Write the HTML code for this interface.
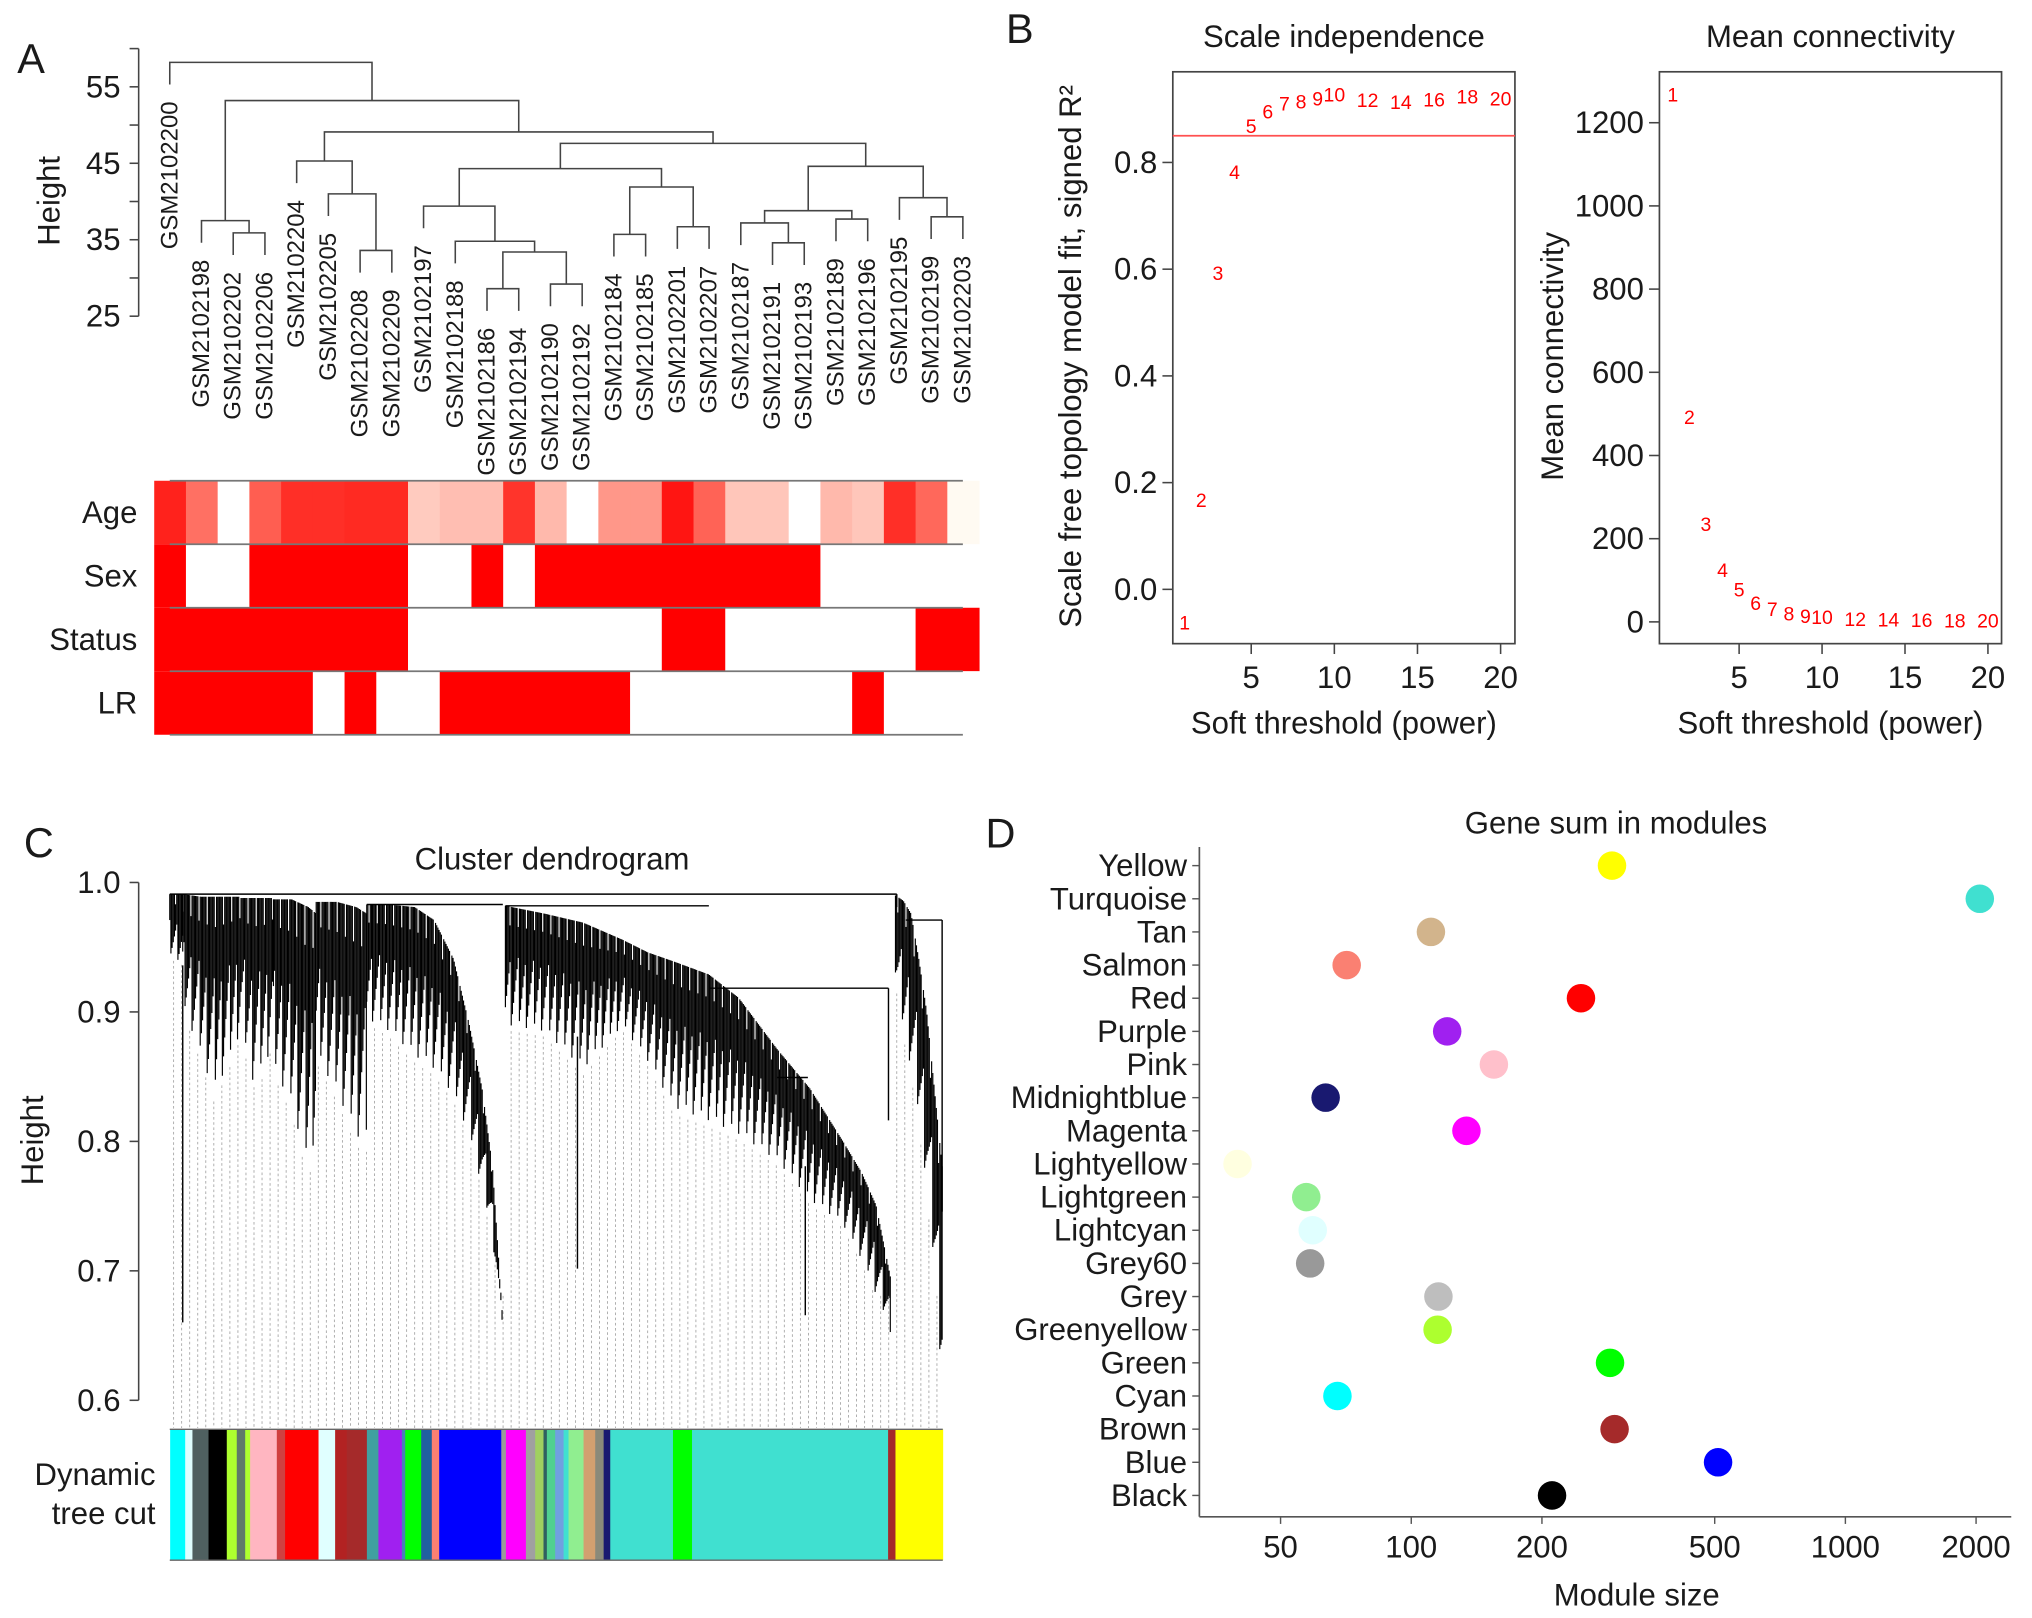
<!DOCTYPE html>
<html><head><meta charset="utf-8"><style>
html,body{margin:0;padding:0;background:#fff}
svg{display:block}
text{font-family:"Liberation Sans",Arial,sans-serif;fill:#1a1a1a}
</style></head><body>
<svg id="fig" xmlns="http://www.w3.org/2000/svg" width="2032" height="1618" viewBox="0 0 1568 1248.6" preserveAspectRatio="none">
<rect x="0" y="0" width="1568" height="1248.6" fill="#fff"/>
<g id="pA"></g>
<g id="pB1"></g>
<g id="pB2"></g>
<g id="pC"></g>
<g id="pD"></g>
</svg>
<script>
// ---------- Panel A data ----------
const sampleLabels = ["GSM2102200","GSM2102198","GSM2102202","GSM2102206","GSM2102204","GSM2102205","GSM2102208","GSM2102209","GSM2102197","GSM2102188","GSM2102186","GSM2102194","GSM2102190","GSM2102192","GSM2102184","GSM2102185","GSM2102201","GSM2102207","GSM2102187","GSM2102191","GSM2102193","GSM2102189","GSM2102196","GSM2102195","GSM2102199","GSM2102203"];
const mergeLeft  = [2,1,6,5,4,10,12,"m5",9,8,14,16,"m10","m9",19,18,21,"m15",24,23,"m17","m13","m4","m1",0];
const mergeRight = ["3","m0","7","m2","m3","11","13","m6","m7","m8","15","17","m11","m12","20","m14","22","m16","25","m18","m19","m20","m21","m22","m23"];
const mergeHeight = [35.9,37.5,33.6,41,45.3,28.6,29.2,33.4,34.8,39.4,35.7,36.7,41.9,44.3,34.6,37.2,37.7,38.8,38,40.5,44.6,47.6,49.1,53.2,58.2];
const heightTicks = [25,30,35,40,45,50,55,60];
const heightTickLabels = ["25","","35","","45","","55",""];
const traitNames = ["Age","Sex","Status","LR"];
const ageValues = [0.85,0.55,0,0.62,0.8,0.8,0.82,0.82,0.2,0.25,0.25,0.78,0.27,0,0.4,0.4,0.9,0.6,0.22,0.22,0,0.27,0.22,0.8,0.58,0.02];
const sexValues = [1,0,0,1,1,1,1,1,0,0,1,0,1,1,1,1,1,1,1,1,1,0,0,0,0,0];
const statusValues = [1,1,1,1,1,1,1,1,0,0,0,0,0,0,0,0,1,1,0,0,0,0,0,0,1,1];
const lrValues = [1,1,1,1,1,0,1,0,0,1,1,1,1,1,1,0,0,0,0,0,0,0,1,0,0,0];

// ---------- Panel B data ----------
const powers = [1,2,3,4,5,6,7,8,9,10,12,14,16,18,20];
const signedR2 = [-0.064,0.166,0.591,0.78,0.866,0.894,0.909,0.912,0.918,0.925,0.915,0.911,0.916,0.922,0.918];
const meanK = [1265,490,233,122,75,43,29,18,12,9,5,3,2,1,1];
const r2Ticks = [0,0.2,0.4,0.6,0.8];
const r2TickLabels = ["0.0","0.2","0.4","0.6","0.8"];
const kTicks = [0,200,400,600,800,1000,1200];
const powerTicks = [5,10,15,20];
const r2Cutoff = 0.85;

// ---------- Panel C data ----------
const cTicks = [1.0,0.9,0.8,0.7,0.6];
const cTickLabels = ["1.0","0.9","0.8","0.7","0.6"];
const moduleBarStarts = [131.3,142.9,148.5,160.9,175,182.7,189.2,193,213.6,220,245.8,258.6,267.6,283.1,292,310.1,312.7,325,333.2,338.9,386.8,390.4,405.8,413,419.4,422,428.4,434.9,438.7,450.3,459.3,465.8,470.9,519.3,534,685.3,691];
const moduleBarColors = ["#00ffff","#e0ffff","#4f6060","#000000","#adff2f","#5f7a6a","#adff2f","#ffb6c1","#d04040","#ff0000","#e0ffff","#b22222","#a52a2a","#40a0a0","#a020f0","#4682b4","#00ff00","#2060a0","#fa8072","#0000ff","#999999","#ff00ff","#a0a0a0","#a0d060","#306060","#50d090","#70a0e0","#40e0d0","#90ee90","#d2a070","#8a8a7a","#191970","#40e0d0","#00ff00","#40e0d0","#a52a2a","#ffff00"];

// ---------- Panel D data ----------
const moduleNames = ["Yellow","Turquoise","Tan","Salmon","Red","Purple","Pink","Midnightblue","Magenta","Lightyellow","Lightgreen","Lightcyan","Grey60","Grey","Greenyellow","Green","Cyan","Brown","Blue","Black"];
const moduleSizes = [290,2040,111,71,246,121,155,63.5,134,39.8,57.3,59.3,58.5,115.5,115,287,67.6,294,509,211];
const moduleColors = ["#ffff00","#40e0d0","#d2b48c","#fa8072","#ff0000","#a020f0","#ffc0cb","#191970","#ff00ff","#ffffe0","#90ee90","#e0ffff","#999999","#bebebe","#adff2f","#00ff00","#00ffff","#a52a2a","#0000ff","#000000"];
const sizeTicks = [50,100,200,500,1000,2000];

const NS = "http://www.w3.org/2000/svg";
function mk(tag, attrs, parent){ const e=document.createElementNS(NS,tag); for(const k in attrs) e.setAttribute(k,attrs[k]); parent.appendChild(e); return e; }
function txt(parent, x, y, s, size, anchor, extra){ const t=mk('text',Object.assign({x:x,y:y,'font-size':size,'text-anchor':anchor||'middle','dominant-baseline':'central'},extra||{}),parent); t.textContent=s; return t; }
function line(parent,x1,y1,x2,y2,stroke,w){ return mk('line',{x1:x1,y1:y1,x2:x2,y2:y2,stroke:stroke||'#333','stroke-width':w||1.2},parent); }

// ================= PANEL A =================
(function(){
  const g=document.getElementById('pA');
  const L=txt(g,24,45,"A",32,'middle');
   
  const yH = h => 244 - (h-25)*5.9;
  const xLeaf = i => 131 + i*24.48;
  const ax=line(g,107,yH(25),107,yH(60),'#444',1.2);
   
  heightTicks.forEach((t,i)=>{
    line(g,100,yH(t),107,yH(t),'#444',1.2);
    if(heightTickLabels[i]){ const tl=txt(g,93,yH(t),heightTickLabels[i],24,'end');
        }
  });
  const yt=txt(g,38,155,"Height",24,'middle',{transform:'rotate(-90 38 155)'});
   
  const nodeX={}, nodeH={};
  function resolve(ref){ if(typeof ref==='string' && ref[0]==='m'){ const k=+ref.slice(1); return {x:nodeX['m'+k],h:nodeH['m'+k],leaf:false}; } const i=+ref; return {x:xLeaf(i),h:null,leaf:true,i:i}; }
  const tree=mk('g',{fill:'none',stroke:'#444','stroke-width':1.2},g);
   
  const hang=2.9;
  for(let k=0;k<mergeHeight.length;k++){
    const a=resolve(mergeLeft[k]), b=resolve(mergeRight[k]); const h=mergeHeight[k];
    nodeX['m'+k]=(a.x+b.x)/2; nodeH['m'+k]=h;
    const ya=a.leaf? yH(h-hang): yH(a.h), yb=b.leaf? yH(h-hang): yH(b.h);
    const p=mk('path',{d:`M${a.x},${ya} V${yH(h)} H${b.x} V${yb}`},tree);
     
    [a,b].forEach(n=>{ if(n.leaf){ const yy=yH(h-hang)+13;
      const t=txt(g,n.x,yy,sampleLabels[n.i],18.5,'end',{transform:`rotate(-90 ${n.x} ${yy})`});
        }});
  }
  const rows=[ageValues,sexValues,statusValues,lrValues];
  const rowTop=[371,420,469,518], rowH=49, colW=24.48, x0=119;
  rows.forEach((vals,r)=>{
    const rl=txt(g,106,rowTop[r]+rowH/2,traitNames[r],24,'end');
     
    vals.forEach((v,i)=>{
      let col;
      if(r===0){ const gch=Math.round(255*(1-v*1.02)); const bch=Math.round(255*Math.pow(1-v,1.15)*0.97+ (v===0?8:0)); col=`rgb(255,${Math.max(0,Math.min(255,gch))},${Math.max(0,Math.min(255,bch))})`; }
      else col = v? '#ff0000':'#ffffff';
      const c=mk('rect',{x:x0+i*colW,y:rowTop[r],width:colW+0.4,height:rowH,fill:col},g);
       
    });
  });
  [371,420,469,518,567].forEach(y=>line(g,131,y,743,y,'#777',1.3));
})();

// ================= PANEL B =================
function panelB(gid, box, xFn, yFn, yTicks, yLabels, values, title, ytitle, ytx){
  const g=document.getElementById(gid);
  const t=txt(g,(box.l+box.r)/2,28,title,24,'middle');
   
  const r=mk('rect',{x:box.l,y:box.t,width:box.r-box.l,height:box.b-box.t,fill:'none',stroke:'#444','stroke-width':1.3},g);
   
  yTicks.forEach((v,i)=>{ const y=yFn(v); line(g,box.l-8,y,box.l,y,'#444',1.2);
    const tl=txt(g,box.l-12,y,yLabels[i],24,'end');   });
  powerTicks.forEach(p=>{ const x=xFn(p); line(g,x,box.b,x,box.b+8,'#444',1.2);
    const tl=txt(g,x,523,String(p),24,'middle');   });
  const xt=txt(g,(box.l+box.r)/2,558,"Soft threshold (power)",24,'middle');
   
  const yt=txt(g,ytx,275,ytitle,24,'middle',{transform:`rotate(-90 ${ytx} 275)`});
   
  powers.forEach((p,i)=>{ const pt=txt(g,xFn(p),yFn(values[i]),String(p),15,'middle',{style:'fill:#ff0000'});
      });
  return g;
}
(function(){
  const L=txt(document.getElementById('pB1'),787,22,"B",32,'middle');
   
  const box1={l:905,r:1169,t:55.4,b:496.7};
  const x1=p=>965.5+(p-5)*12.83, y1=v=>454.8-411.8*v;
  const g=panelB('pB1',box1,x1,y1,r2Ticks,r2TickLabels,signedR2,"Scale independence","Scale free topology model fit, signed R\u00B2",826);
  const cl=line(g,box1.l,y1(r2Cutoff),box1.r,y1(r2Cutoff),'#ff5050',1.4);
   
  const box2={l:1280.5,r:1544.5,t:55.4,b:496.7};
  const x2=p=>1342+(p-5)*12.8, y2=v=>479.9-v*0.321;
  panelB('pB2',box2,x2,y2,kTicks,kTicks.map(String),meanK,"Mean connectivity","Mean connectivity",1198);
})();

// ================= PANEL C =================
(function(){
  const g=document.getElementById('pC');
  const L=txt(g,30,650,"C",32,'middle');  
  const T=txt(g,426,663,"Cluster dendrogram",24,'middle');  
  const yC=h=>681+(1-h)*999;
  const ax=line(g,107,yC(1),107,yC(0.6),'#444',1.2);  
  cTicks.forEach((v,i)=>{ line(g,100,yC(v),107,yC(v),'#444',1.2);
    const tl=txt(g,93,yC(v),cTickLabels[i],24,'end');   });
  const yt=txt(g,25,880,"Height",24,'middle',{transform:'rotate(-90 25 880)'});
   
  const masses=[
    {x:[131,141],top:[690,690],bot:[740,745]},
    {x:[141,155,165,175,186],top:[690,692,692,692,692],bot:[780,820,850,830,800]},
    {x:[186,195,205,211],top:[693,693,693,693],bot:[800,840,830,800]},
    {x:[211,225,238,244],top:[694,694,700,705],bot:[830,860,912,880]},
    {x:[244,260,275,283],top:[696,696,700,705],bot:[820,850,885,889]},
    {x:[283,300,320,335,350,362,372,380,388],top:[698,698,700,710,740,790,840,900,1020],bot:[790,800,820,830,850,880,920,960,1024]},
    {x:[390,420,450,480,500,520,547,570,600,625,650,665,676,687],top:[699,705,712,725,735,742,752,770,810,840,880,905,930,985],bot:[795,800,830,795,823,860,870,880,900,930,947,975,1002,1030]},
    {x:[691,697,703,709,715,721,727],top:[691,695,705,740,780,840,900],bot:[760,800,830,870,920,990,1074]}
  ];
  const dend=mk('g',{stroke:'#000','stroke-width':0.9},g);
   
  const dash=mk('g',{stroke:'#9a9a9a','stroke-width':0.6,'stroke-dasharray':'2 2'},g);
   
  function interp(xs,ys,x){ for(let i=0;i<xs.length-1;i++){ if(x>=xs[i]&&x<=xs[i+1]){ const f=(x-xs[i])/((xs[i+1]-xs[i])||1); return ys[i]+f*(ys[i+1]-ys[i]); } } return ys[ys.length-1]; }
  let k=0;
  masses.forEach(m=>{
    for(let x=m.x[0]; x<=m.x[m.x.length-1]; x+=0.9){
      const t=interp(m.x,m.top,x), b=interp(m.x,m.bot,x);
      const j=((k*37)%13)/13, jj=((k*53)%7)/7; k++;
      const bb=t+(b-t)*(0.4+0.6*j);
      line(dend,x,t+(jj>0.8?(b-t)*0.15:0),x,bb,'#000',0.9);
    }
  });
  [[131,690,692,690],[692,690,692,700],[699,710,727,710],[727,710,727,935],[547.5,762.6,685.6,762.6],[685.6,762.6,685.6,864.6],[600,831.5,623.4,831.5],[283,698,388,698],[390,699,547,699],[141,745,141,1020.5],[445.6,800,445.6,979],[621.4,900,621.4,1015]].forEach(s=>line(dend,s[0],s[1],s[2],s[3],'#000',1.1));
  for(let x=134;x<727;x+=6.2){
    let bottom=1000;
    masses.forEach(m=>{ if(x>=m.x[0]&&x<=m.x[m.x.length-1]) bottom=Math.min(bottom,interp(m.x,m.bot,x)); });
    line(dash,x,bottom,x,1102,'#9a9a9a',0.6);
  }
  const bar=mk('g',{},g);  
  moduleBarStarts.forEach((x,i)=>{ const xe = i+1<moduleBarStarts.length? moduleBarStarts[i+1] : 727.5;
    const r=mk('rect',{x:x,y:1103,width:xe-x+0.3,height:101,fill:moduleBarColors[i]},bar);
      });
  line(g,131,1103,727.5,1103,'#666',1); line(g,131,1204,727.5,1204,'#666',1);
  const d1=txt(g,120,1138,"Dynamic",24,'end');  
  const d2=txt(g,120,1168,"tree cut",24,'end');  
})();

// ================= PANEL D =================
(function(){
  const g=document.getElementById('pD');
  const L=txt(g,772,643,"D",32,'middle');  
  const T=txt(g,1247,635,"Gene sum in modules",24,'middle');  
  const xD=v=>1089+(Math.log10(v)-2)*335;
  const yD=i=>668+i*25.58;
  const ya=line(g,925.5,653.6,925.5,1170.5,'#555',1.3);  
  const xa=line(g,925.5,1170.5,1552,1170.5,'#555',1.3);  
  sizeTicks.forEach(v=>{ const x=xD(v); line(g,x,1170.5,x,1176,'#555',1.1);
    const tl=txt(g,x,1194,String(v),24,'middle');   });
  const xt=txt(g,1263,1231,"Module size",24,'middle');  
  moduleNames.forEach((n,i)=>{
    const y=yD(i); line(g,920,y,925.5,y,'#555',1.1);
    const tl=txt(g,916,y,n,24,'end');  
    const c=mk('circle',{cx:xD(moduleSizes[i]),cy:y,r:11,fill:moduleColors[i]},g);
     
  });
})();
</script>
</body></html>
